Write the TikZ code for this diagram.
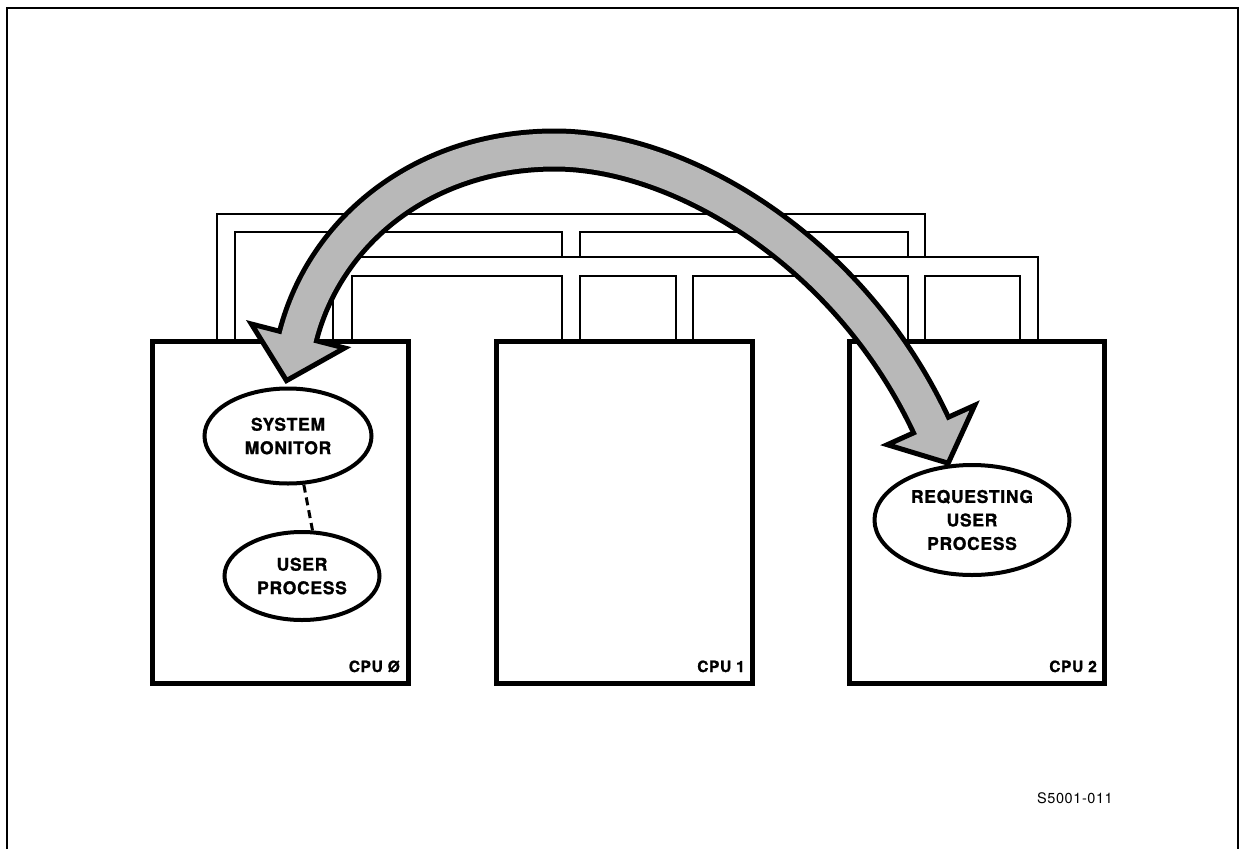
\documentclass[tikz,border=0pt]{standalone}
\usepackage{fontspec}
\setmainfont{TeX Gyre Heros}
\newfontfamily\labfont[LetterSpace=4, BoldFeatures={FakeBold=1.2}]{TeX Gyre Heros}
\usetikzlibrary{shapes.geometric}
\definecolor{arrowgray}{gray}{0.72}
\begin{document}
\begin{tikzpicture}[x=1pt,y=-1pt,
  bus/.style={line width=2.2pt, line join=miter},
  cpubox/.style={draw, line width=5pt, inner sep=0pt},
  proc/.style={ellipse, draw, line width=4pt, fill=white, inner sep=0pt, align=center,
    font=\labfont\bfseries\fontsize{17.5}{23.5}\selectfont},
  cpulabel/.style={anchor=base east, inner sep=0pt, font=\labfont\bfseries\fontsize{15.5}{18}\selectfont}]
\useasboundingbox (0,0) rectangle (1240,849);
% outer frame
\draw[line width=2.5pt] (7,849) -- (7,8) -- (1238,8) -- (1238,849);
% bus A (behind)
\draw[bus] (217,341) -- (217,214) -- (925,214) -- (925,257);
\draw[bus] (235,341) -- (235,232) -- (562,232) -- (562,257);
\draw[bus] (580,257) -- (580,232) -- (908,232) -- (908,257);
% bus B (front)
\draw[bus] (333,341) -- (333,257) -- (1038,257) -- (1038,341);
\draw[bus] (352,341) -- (352,276) -- (562,276) -- (562,341);
\draw[bus] (580,341) -- (580,276) -- (676,276) -- (676,341);
\draw[bus] (693,341) -- (693,276) -- (908,276) -- (908,341);
\draw[bus] (925,341) -- (925,276) -- (1020,276) -- (1020,341);
% CPU boxes
\node[cpubox, minimum width=256pt, minimum height=342pt] (cpu0) at (280,512) {};
\node[cpubox, minimum width=256pt, minimum height=342pt] (cpu1) at (624,512) {};
\node[cpubox, minimum width=255pt, minimum height=342pt] (cpu2) at (976.5,512) {};
\node[cpulabel] (l0) at (400,672) {CPU Ø};
\node[cpulabel] (l1) at (745,672) {CPU 1};
\node[cpulabel] (l2) at (1097,672) {CPU 2};
% big double arrow
\coordinate (aL) at (298,336);
\coordinate (c1) at (325.5,229.3);
\coordinate (c2) at (425,150);
\coordinate (aM) at (555,150);
\coordinate (c3) at (680,150);
\coordinate (c4) at (849,250);
\coordinate (aR) at (931,425);
\coordinate (tipL) at (286.5,380.6);
\coordinate (wL1) at (251.4,324);
\coordinate (wL2) at (344.6,348);
\coordinate (eL) at (296,343.8);
\coordinate (tipR) at (948.2,463.2);
\coordinate (wR1) at (887.3,444.7);
\coordinate (wR2) at (974.7,405.3);
\coordinate (eR) at (934.3,432.3);
\draw[line width=43pt, line cap=butt] (aL) .. controls (c1) and (c2) .. (aM) .. controls (c3) and (c4) .. (aR);
\filldraw[fill=arrowgray, draw=black, line width=5pt, line join=miter] (tipL) -- (wL2) -- (wL1) -- cycle;
\filldraw[fill=arrowgray, draw=black, line width=5pt, line join=miter] (tipR) -- (wR1) -- (wR2) -- cycle;
\draw[arrowgray, line width=33pt, line cap=butt] (eL) -- (aL) .. controls (c1) and (c2) .. (aM) .. controls (c3) and (c4) .. (aR) -- (eR);
% processes
\node[proc, minimum width=167pt, minimum height=95pt] (sm) at (288,436) {SYSTEM\\MONITOR};
\node[proc, minimum width=155pt, minimum height=88pt] (up) at (302,576) {USER\\PROCESS};
\node[proc, minimum width=195pt, minimum height=110pt] (rup) at (972,520) {REQUESTING\\USER\\PROCESS};
\draw[line width=3pt, dash pattern=on 8pt off 5pt] (sm.-72) -- (up.77);
% figure code
\node[anchor=base, inner sep=0pt, font=\labfont\fontsize{14.5}{17}\selectfont] (code) at (1075,803) {S5001-011};
\end{tikzpicture}
\end{document}
